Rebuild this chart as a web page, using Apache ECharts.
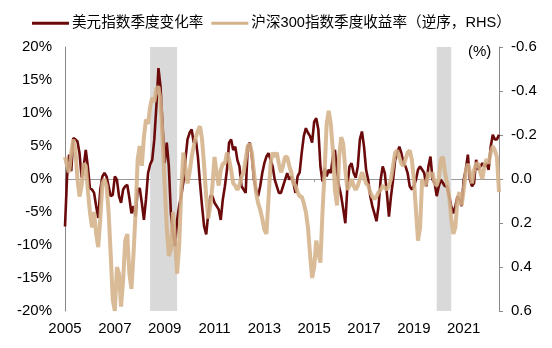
<!DOCTYPE html>
<html><head><meta charset="utf-8">
<script src="https://cdn.jsdelivr.net/npm/echarts@6.0.0/dist/echarts.min.js"></script>
<style>html,body{margin:0;padding:0;background:#fff}#c{width:552px;height:348px}</style>
</head><body><div id="c"></div>
<script>
// Monthly data, Jan 2005 .. Jun 2022
const startYear = 2005;
const monthCount = 210;
const seriesNames = ['美元指数季度变化率', '沪深300指数季度收益率（逆序，RHS）'];
const yearLabelStep = 24;          // a label every 2 years
const zeroTickIdx = [48, 120, 192]; // small ticks on zero line
const shadeRanges = [['2008-06', '2009-07'], ['2019-12', '2020-07']];

// 美元指数季度变化率 (%), left axis
const usdChange = [
-7.2,0.4,3.7,1.2,6.2,6.0,5.7,3.9,0.2,1.9,4.4,1.9,
-1.4,-1.6,-2.1,-4.1,-5.9,-1.6,0.4,0.9,0.4,-1.1,-2.6,-2.4,
0.4,-0.1,-2.6,-3.6,-1.6,-1.1,-0.9,-2.9,-5.2,-4.1,-5.7,-1.6,
-1.4,-3.6,-6.2,-3.1,0.9,2.2,2.9,6.0,11.0,16.8,14.0,8.0,
2.4,5.5,1.9,-5.2,-8.2,-10.2,-6.2,-4.0,-2.5,-0.5,3.0,6.0,
7.0,7.5,5.5,6.0,3.4,-0.6,-4.1,-7.2,-8.4,-5.2,-2.6,-2.6,
-3.6,-4.1,-4.6,-6.2,-3.1,-1.1,1.4,5.5,6.0,4.4,4.9,2.9,
1.9,-1.1,-1.6,-2.1,4.9,5.5,3.4,-0.1,-1.6,-2.6,-1.1,0.9,
2.4,3.4,3.9,2.9,1.9,-0.1,-1.1,-2.1,-2.1,-1.1,-0.1,0.9,
-0.1,0.4,-0.6,-2.1,0.4,1.0,4.0,6.5,7.7,7.0,6.5,5.5,
8.7,9.2,7.5,1.9,-0.4,1.7,0.4,1.4,0.9,3.4,4.4,0.9,
-1.1,-2.6,-4.6,-6.7,-1.1,1.9,2.4,0.9,0.2,1.9,6.0,7.2,
4.9,1.4,-0.1,-2.6,-4.1,-5.2,-6.4,-4.1,-0.1,1.9,0.9,-2.1,
-5.7,-2.6,-0.1,2.9,3.9,4.9,3.9,2.4,1.9,0.9,-1.1,-1.6,
-1.1,-0.1,1.4,1.9,1.4,0.9,-1.1,1.9,3.4,-0.1,-0.6,-2.6,
-1.1,-0.1,-0.6,-1.1,-1.1,-2.6,-4.1,-5.2,-4.1,-2.6,-3.1,-4.1,
-0.1,1.4,3.7,-0.1,-1.1,-0.6,2.9,1.4,1.9,2.4,1.9,2.4,
1.4,4.9,6.7,6.0,6.0,6.7
];

// 沪深300指数季度收益率 (inverted, right axis)
const csiReturn = [
-0.10,-0.06,-0.03,-0.12,-0.18,-0.13,0.00,0.08,0.03,-0.07,-0.06,0.05,
0.15,0.22,0.15,0.25,0.31,0.18,0.02,0.00,0.03,0.15,0.34,0.55,
0.60,0.40,0.43,0.58,0.46,0.28,0.25,0.43,0.50,0.34,0.15,-0.09,
-0.15,-0.06,-0.19,-0.27,-0.25,-0.33,-0.37,-0.35,-0.41,-0.42,-0.36,-0.18,
0.03,0.22,0.35,0.32,0.15,0.28,0.43,0.30,0.05,-0.12,-0.05,0.02,
-0.03,-0.10,-0.15,-0.19,-0.22,-0.24,-0.18,-0.06,0.08,0.18,0.12,0.03,
-0.10,-0.03,0.03,-0.04,-0.07,-0.07,-0.12,-0.09,-0.04,0.02,0.03,0.05,
0.03,-0.01,-0.03,-0.09,-0.15,-0.16,-0.12,-0.03,0.06,0.11,0.14,0.18,
0.23,0.25,0.09,-0.07,-0.12,-0.10,-0.12,-0.07,-0.03,-0.06,-0.10,-0.10,
-0.06,-0.03,0.02,0.03,0.06,0.08,0.08,0.11,0.15,0.22,0.34,0.45,
0.40,0.28,0.34,0.38,0.15,-0.03,-0.25,-0.31,-0.25,-0.13,0.05,0.12,
-0.10,-0.19,-0.16,-0.04,0.05,0.03,0.00,0.03,0.05,0.03,0.00,-0.03,
-0.01,0.02,0.03,0.06,0.08,0.09,0.08,0.06,0.05,0.03,0.04,0.05,
0.03,0.00,-0.06,-0.12,-0.13,-0.10,-0.07,-0.06,-0.09,-0.12,-0.13,-0.09,
0.00,0.14,0.28,0.22,0.00,0.03,0.02,-0.03,-0.01,-0.03,0.02,0.03,
0.00,-0.09,-0.10,-0.03,0.02,0.08,0.18,0.25,0.22,0.09,0.06,0.12,
0.05,-0.03,-0.07,-0.03,0.02,-0.04,-0.07,-0.07,-0.03,0.00,-0.06,-0.09,
-0.07,-0.12,-0.15,-0.13,-0.10,0.06
];

const months = [];
for (let m = 0; m < monthCount; m++) {
  const y = startYear + Math.floor(m / 12);
  const mo = (m % 12) + 1;
  months.push(y + '-' + (mo < 10 ? '0' + mo : '' + mo));
}

const FONT = '"Liberation Sans", Arial, "Noto Sans CJK SC", sans-serif';
const chart = echarts.init(document.getElementById('c'), null, {renderer: 'canvas'});
chart.setOption({
  animation: false,
  backgroundColor: '#fff',
  textStyle: {fontFamily: FONT},
  legend: {
    top: 11, left: 27,
    icon: 'rect', itemWidth: 37, itemHeight: 3, itemGap: 8,
    textStyle: {fontSize: 14.6, color: '#000', fontFamily: FONT, padding: [0, 0, 0, -2]},
    data: seriesNames
  },
  grid: {left: 65, right: 53, top: 47, bottom: 37, containLabel: false},
  graphic: [{
    type: 'text', left: 468, top: 44,
    style: {text: '(%)', font: '15px "Liberation Sans", Arial', fill: '#000'}
  }],
  xAxis: [{
    type: 'category', data: months, boundaryGap: false, position: 'bottom',
    axisLine: {show: false, onZero: false}, axisTick: {show: false},
    axisLabel: {
      interval: function (i) { return i % yearLabelStep === 0; },
      formatter: function (v) { return v.slice(0, 4); },
      fontSize: 15, color: '#000', margin: 10, fontFamily: FONT
    },
    splitLine: {show: false}
  }, {
    type: 'category', data: months, boundaryGap: false, position: 'top',
    axisLine: {show: true, onZero: true, lineStyle: {color: '#999', width: 1}},
    axisTick: {show: true, inside: true, length: 3, lineStyle: {color: '#999'},
      interval: function (i) { return zeroTickIdx.indexOf(i) >= 0; }},
    axisLabel: {show: false},
    splitLine: {show: false}
  }],
  yAxis: [{
    type: 'value', min: -20, max: 20, interval: 5, position: 'left',
    axisLine: {show: true, lineStyle: {color: '#888'}},
    axisTick: {show: false},
    splitLine: {show: false},
    axisLabel: {formatter: '{value}%', fontSize: 15, color: '#000', margin: 13, fontFamily: FONT}
  }, {
    type: 'value', min: -0.6, max: 0.6, interval: 0.2, position: 'right', inverse: true,
    axisLine: {show: true, lineStyle: {color: '#888'}},
    axisTick: {show: true, length: 4, lineStyle: {color: '#888'}},
    splitLine: {show: false},
    axisLabel: {
      formatter: function (v) { return (Math.abs(v) < 1e-9 ? 0 : v).toFixed(1); },
      fontSize: 15, color: '#000', margin: 12, fontFamily: FONT
    }
  }],
  series: [{
    name: seriesNames[0], type: 'line', xAxisIndex: 0, yAxisIndex: 0,
    data: usdChange, showSymbol: false, symbol: 'none',
    lineStyle: {color: '#6B0A0A', width: 2.6}, itemStyle: {color: '#6B0A0A'},
    markArea: {
      silent: true,
      itemStyle: {color: '#D9D9D9'},
      data: shadeRanges.map(function (r) { return [{xAxis: r[0]}, {xAxis: r[1]}]; })
    },
    z: 2
  }, {
    name: seriesNames[1], type: 'line', xAxisIndex: 0, yAxisIndex: 1,
    data: csiReturn, showSymbol: false, symbol: 'none',
    lineStyle: {color: '#D4B28A', width: 4, opacity: 0.88}, itemStyle: {color: '#D4B28A'},
    z: 3
  }]
});
</script></body></html>
